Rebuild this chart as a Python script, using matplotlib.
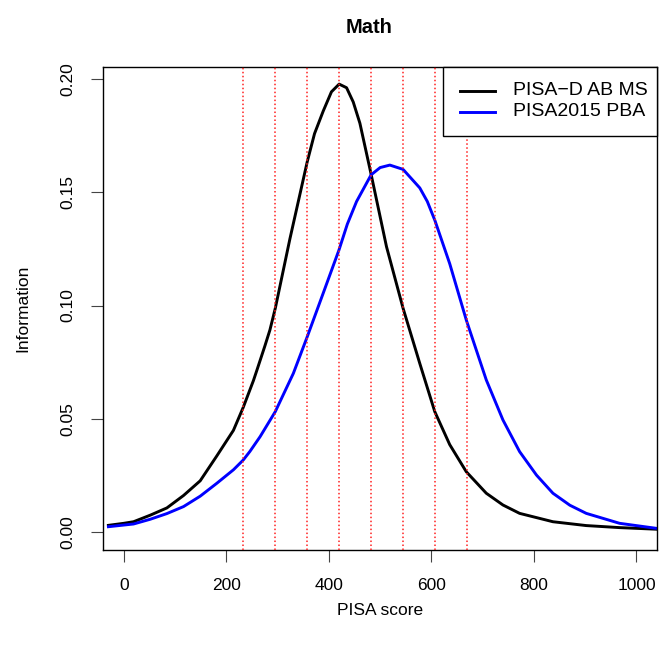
import numpy as np
import matplotlib
matplotlib.use("Agg")
import matplotlib.pyplot as plt
from matplotlib.patches import Rectangle
from matplotlib.lines import Line2D

plt.rcParams['font.family'] = ['Liberation Sans', 'DejaVu Sans']

# PISA math proficiency cut scores (levels 1c .. 6)
cuts = [233.17, 295.47, 357.77, 420.07, 482.38, 544.68, 606.99, 669.30]

series_names = ['PISA\u2212D AB MS', 'PISA2015 PBA']
series_colors = ['black', '#0000FF']

# test information
x_pisad = [-30, 0, 19, 51.6, 84, 116.5, 149, 181.4, 213.8, 233, 252.8, 259.3, 275,
           285, 295.5, 324, 357.8, 372, 389, 405, 420, 434.5, 447.5, 460.5, 482.4,
           512.4, 544.7, 577.3, 606.5, 635.7, 668, 707, 739.5, 772, 837, 902, 967, 1038]
y_pisad = [0.0028, 0.0037, 0.0044, 0.0073, 0.0105, 0.0160, 0.0225, 0.0335, 0.0448,
           0.0550, 0.0668, 0.0712, 0.0820, 0.0892, 0.0988, 0.1295, 0.1636, 0.1760,
           0.1860, 0.1945, 0.1979, 0.1963, 0.1900, 0.1806, 0.1580, 0.1260, 0.0988,
           0.0744, 0.0531, 0.0385, 0.0265, 0.0170, 0.0118, 0.0081, 0.0044, 0.0027,
           0.0018, 0.0011]

x_pisa15 = [-30, 19, 51.6, 84, 116.5, 149, 181.4, 214, 233, 246, 265.8, 295.5, 330.7,
            357.8, 389, 419.6, 436, 454, 482.4, 500, 518.9, 544.7, 577.3, 592, 607,
            635.7, 668, 707, 739.5, 772, 805, 837, 870, 902, 967, 1038]
y_pisa15 = [0.0022, 0.0034, 0.0055, 0.0080, 0.0111, 0.0157, 0.0214, 0.0274, 0.0317,
            0.0355, 0.0420, 0.0531, 0.0700, 0.0862, 0.1055, 0.1245, 0.1360, 0.1460,
            0.1578, 0.1610, 0.1621, 0.1602, 0.1520, 0.1460, 0.1375, 0.1185, 0.0936,
            0.0671, 0.0494, 0.0354, 0.0250, 0.0170, 0.0117, 0.0081, 0.0037, 0.0015]

W, H = 659, 648
fig = plt.figure(figsize=(W/100, H/100), dpi=100)
ax = fig.add_axes([103.3/W, 1-550/H, (657-103.3)/W, (550-66.7)/H])

ax.plot(x_pisad, y_pisad, color=series_colors[0], lw=2.1)
ax.plot(x_pisa15, y_pisa15, color=series_colors[1], lw=2.1)
for c in cuts:
    ax.axvline(c, color='#ff2020', lw=1.1, linestyle=(0, (1, 1.6)), zorder=3)

ax.set_xlim(-40, 1040)
ax.set_ylim(-0.0081, 0.2056)
ax.set_xticks(range(0, 1001, 200))
yt = [0, 0.05, 0.10, 0.15, 0.20]
ax.set_yticks(yt)
ax.set_yticklabels(['%.2f' % v for v in yt], rotation=90, va='center')
ax.tick_params(direction='out', length=8.4, width=0.8, labelsize=12.5, pad=12, color='#444444')
for s in ax.spines.values():
    s.set_linewidth(1)

ax.set_xlabel('PISA score', fontsize=12.5, labelpad=7)
ax.set_ylabel('Information', fontsize=12.5, labelpad=21)
ax.set_title('Math', fontsize=14.5, fontweight='bold', pad=24, x=(369-103.3)/553.7)

# legend box in the top right corner, R style
def fx(px):
    return px / W

def fy(py):
    return 1 - py / H

fig.patches.append(Rectangle((fx(443.3), fy(136)), fx(657) - fx(443.3), fy(66.7) - fy(136),
                             transform=fig.transFigure, facecolor='white',
                             edgecolor='black', lw=1, zorder=5))
for name, col, py in zip(series_names, series_colors, [90.7, 111.7]):
    fig.lines.append(Line2D([fx(460), fx(495)], [fy(py), fy(py)], color=col, lw=2.1,
                            transform=fig.transFigure, zorder=6))
    fig.text(fx(512.7), fy(py), name, fontsize=14, va='center', ha='left', zorder=6)

fig.savefig('out.png', dpi=100)
